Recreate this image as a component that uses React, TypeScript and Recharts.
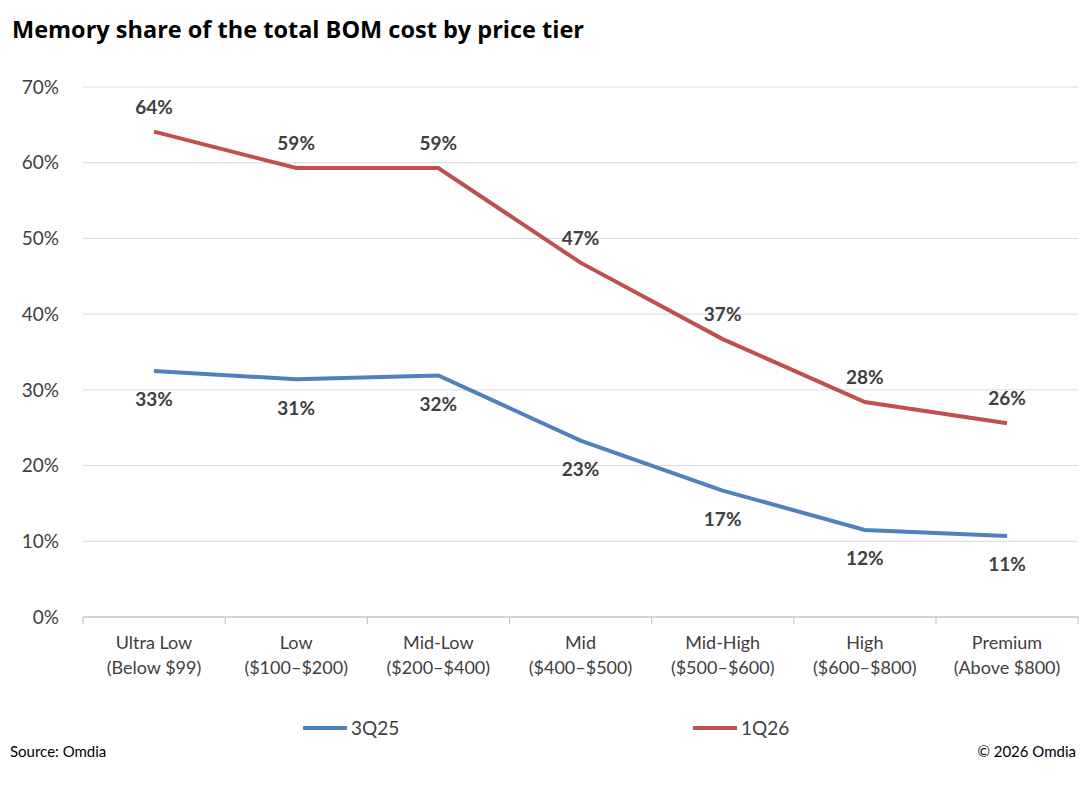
import React from "react";
import { LineChart, Line, XAxis, YAxis, CartesianGrid, LabelList } from "recharts";

const tiers = ["Ultra Low", "Low", "Mid-Low", "Mid", "Mid-High", "High", "Premium"];
const ranges = ["(Below $99)", "($100–$200)", "($200–$400)", "($400–$500)", "($500–$600)", "($600–$800)", "(Above $800)"];
const q3_25 = [32.5, 31.4, 31.9, 23.3, 16.7, 11.5, 10.7];
const q1_26 = [64.1, 59.3, 59.3, 46.8, 36.7, 28.4, 25.6];
const q3_25Labels = ["33%", "31%", "32%", "23%", "17%", "12%", "11%"];
const q1_26Labels = ["64%", "59%", "59%", "47%", "37%", "28%", "26%"];
const yTicks = [0, 10, 20, 30, 40, 50, 60, 70];

const data = tiers.map((t, i) => ({
  tier: t,
  range: ranges[i],
  a: q3_25[i],
  b: q1_26[i],
  la: q3_25Labels[i],
  lb: q1_26Labels[i],
}));

const BLUE = "#4f81bd";
const RED = "#c0504d";
const FONT = "Lato, 'Noto Sans', sans-serif";
const HALF = 71;

function Tick(props: any) {
  const { x, y, payload, index } = props;
  const d = data[payload.index ?? index] ?? data[0];
  return (
    <g>
      <line x1={x - HALF} x2={x - HALF} y1={y - 8} y2={y - 1} stroke="#bfbfbf" />
      {index === data.length - 1 && <line x1={x + HALF} x2={x + HALF} y1={y - 8} y2={y - 1} stroke="#bfbfbf" />}
      <text x={x} y={y + 24} textAnchor="middle" fontSize={18} fill="#404040">{d.tier}</text>
      <text x={x} y={y + 49} textAnchor="middle" fontSize={18} fill="#404040">{d.range}</text>
    </g>
  );
}

export default function App() {
  return (
    <div style={{ position: "absolute", left: 0, top: 0, width: 1080, height: 787, background: "#fff", fontFamily: FONT }}>
      <div style={{ position: "absolute", left: 12, top: 13, fontSize: 23.5, fontWeight: 700, color: "#000", fontFamily: "'Open Sans', sans-serif" }}>
        Memory share of the total BOM cost by price tier
      </div>
      <LineChart width={1080} height={787} data={data} margin={{ top: 87, right: 2, left: 0, bottom: 110 }}>
        <CartesianGrid vertical={false} stroke="#d9d9d9" />
        <XAxis dataKey="tier" tick={<Tick />} tickLine={false} axisLine={{ stroke: "#bfbfbf" }} interval={0} height={60} padding={{ left: HALF, right: HALF }} />
        <YAxis
          width={83}
          domain={[0, 70]}
          ticks={yTicks}
          tickFormatter={(v) => `${v}%`}
          axisLine={false}
          tickLine={false}
          tick={{ fontSize: 19, fill: "#404040", fontFamily: FONT }}
          tickMargin={18}
        />
        <Line dataKey="a" stroke={BLUE} strokeWidth={4} dot={false} isAnimationActive={false}>
          <LabelList dataKey="la" position="bottom" offset={22} fontSize={19} fontWeight={700} fill="#404040" fontFamily={FONT} />
        </Line>
        <Line dataKey="b" stroke={RED} strokeWidth={4} dot={false} isAnimationActive={false}>
          <LabelList dataKey="lb" position="top" offset={18} fontSize={19} fontWeight={700} fill="#404040" fontFamily={FONT} />
        </Line>
      </LineChart>
      <div style={{ position: "absolute", left: 303, top: 716, display: "flex", alignItems: "center", fontSize: 19, color: "#404040" }}>
        <span style={{ display: "inline-block", width: 44, height: 4, background: BLUE, marginRight: 4 }} />3Q25
      </div>
      <div style={{ position: "absolute", left: 693, top: 716, display: "flex", alignItems: "center", fontSize: 19, color: "#404040" }}>
        <span style={{ display: "inline-block", width: 44, height: 4, background: RED, marginRight: 4 }} />1Q26
      </div>
      <div style={{ position: "absolute", left: 10, top: 742, fontSize: 15, color: "#000" }}>Source: Omdia</div>
      <div style={{ position: "absolute", right: 4, top: 742, fontSize: 15, color: "#000" }}>© 2026 Omdia</div>
    </div>
  );
}
